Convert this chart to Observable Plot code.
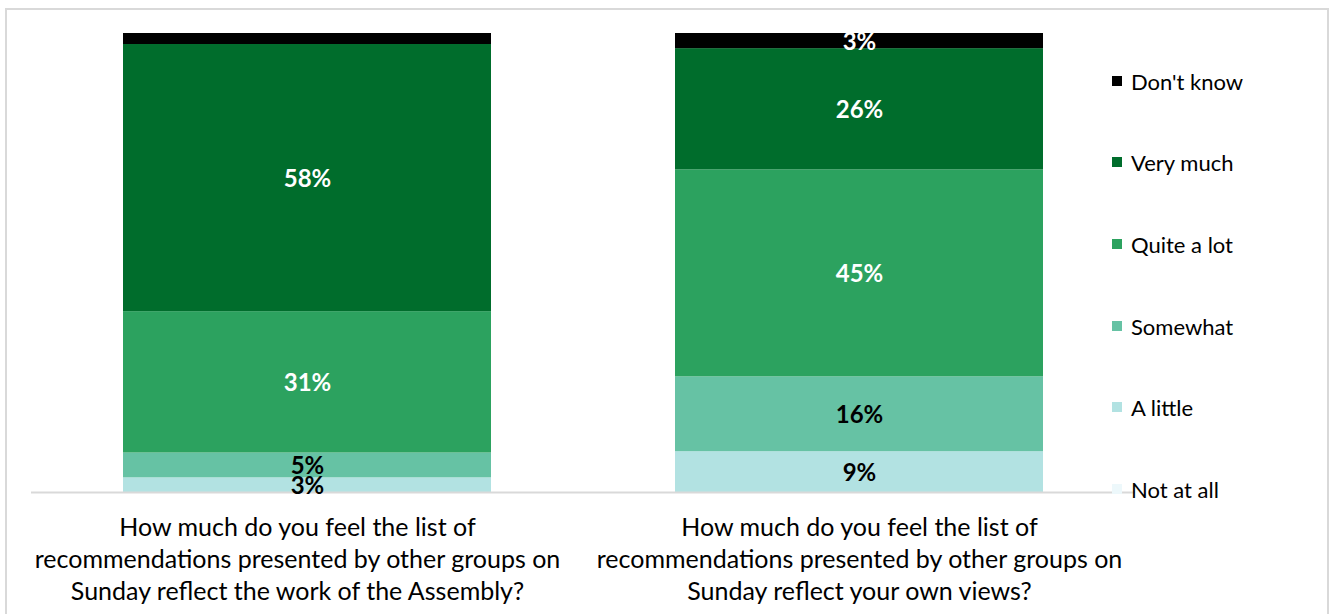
<!DOCTYPE html>
<html><head><meta charset="utf-8">
<script src="https://cdn.jsdelivr.net/npm/d3@7"></script>
<script src="https://cdn.jsdelivr.net/npm/@observablehq/plot@0.6"></script>
<style>
body{margin:0;background:#fff;}
#wrap{position:relative;width:1336px;height:614px;overflow:hidden;font-family:Lato,"Open Sans",sans-serif;}
#chart{position:absolute;left:0;top:0;}
#border{position:absolute;left:5px;top:8px;width:1324px;height:630px;border:2px solid #d9d9d9;box-sizing:border-box;pointer-events:none;}
.li{position:absolute;left:1112px;height:26px;display:flex;align-items:center;font-size:22px;color:#000;white-space:nowrap;}
.li span.sw{display:inline-block;width:10px;height:10px;margin-right:9px;}
</style></head><body>
<div id="wrap"><div id="chart"></div><div id="border"></div><div id="legend"></div></div>
<script>
const questions = [
  "How much do you feel the list of\nrecommendations presented by other groups on\nSunday reflect the work of the Assembly?",
  "How much do you feel the list of\nrecommendations presented by other groups on\nSunday reflect your own views?"
];
const responses = ["Not at all", "A little", "Somewhat", "Quite a lot", "Very much", "Don't know"];
const assemblyWork = [0, 3.2, 5.4, 30.8, 58.2, 2.4];
const ownViews = [0, 8.9, 16.3, 45.1, 26.4, 3.3];
const assemblyShown = [false, true, true, true, true, false];
const ownShown = [false, true, true, true, true, true];
const colors = ["#edf8fb", "#b2e2e2", "#66c2a4", "#2ca25f", "#006d2c", "#000000"];
const whiteLabel = [false, false, false, true, true, true];

const rows = [];
[[assemblyWork, assemblyShown], [ownViews, ownShown]].forEach(([vals, shown], qi) => {
  responses.forEach((r, i) => rows.push({question: questions[qi], response: r, value: vals[i], show: shown[i], white: whiteLabel[i]}));
});

const lbl = d => Math.round(d.value) + "%";
const axisOpts = {tickSize: 0, tickPadding: 21, fontSize: 25, lineHeight: 1.28, fill: "#000", label: null};
const plot = Plot.plot({
  width: 1336, height: 614,
  marginLeft: 31, marginRight: 201, marginTop: 33, marginBottom: 122,
  style: {fontFamily: "Lato, 'Open Sans', sans-serif", background: "transparent"},
  x: {domain: questions, paddingInner: 1/3, paddingOuter: 1/6, axis: null},
  y: {domain: [0, 100], axis: null},
  color: {domain: responses, range: colors},
  marks: [
    Plot.barY(rows, {x: "question", y: "value", fill: "response"}),
    Plot.ruleY([0], {stroke: "#d9d9d9", strokeWidth: 2}),
    Plot.text(rows, Plot.stackY({x: "question", y: "value", text: d => d.show && d.white ? lbl(d) : "", fill: "#fff", fontWeight: "bold", fontSize: 24, dy: 1})),
    Plot.text(rows, Plot.stackY({x: "question", y: "value", text: d => d.show && !d.white ? lbl(d) : "", fill: "#000", fontWeight: "bold", fontSize: 24, dy: 1})),
    Plot.axisX({...axisOpts, ticks: [questions[0]], dx: -10}),
    Plot.axisX({...axisOpts, ticks: [questions[1]]})
  ]
});
document.getElementById("chart").appendChild(plot);

const legendCenters = [490, 408, 327, 245, 163, 82];
const lg = document.getElementById("legend");
responses.forEach((r, i) => {
  const d = document.createElement("div");
  d.className = "li";
  d.style.top = (legendCenters[i] - 14) + "px";
  d.innerHTML = `<span class="sw" style="background:${colors[i]}"></span><span></span>`;
  d.lastChild.textContent = r;
  lg.appendChild(d);
});
</script>
</body></html>
